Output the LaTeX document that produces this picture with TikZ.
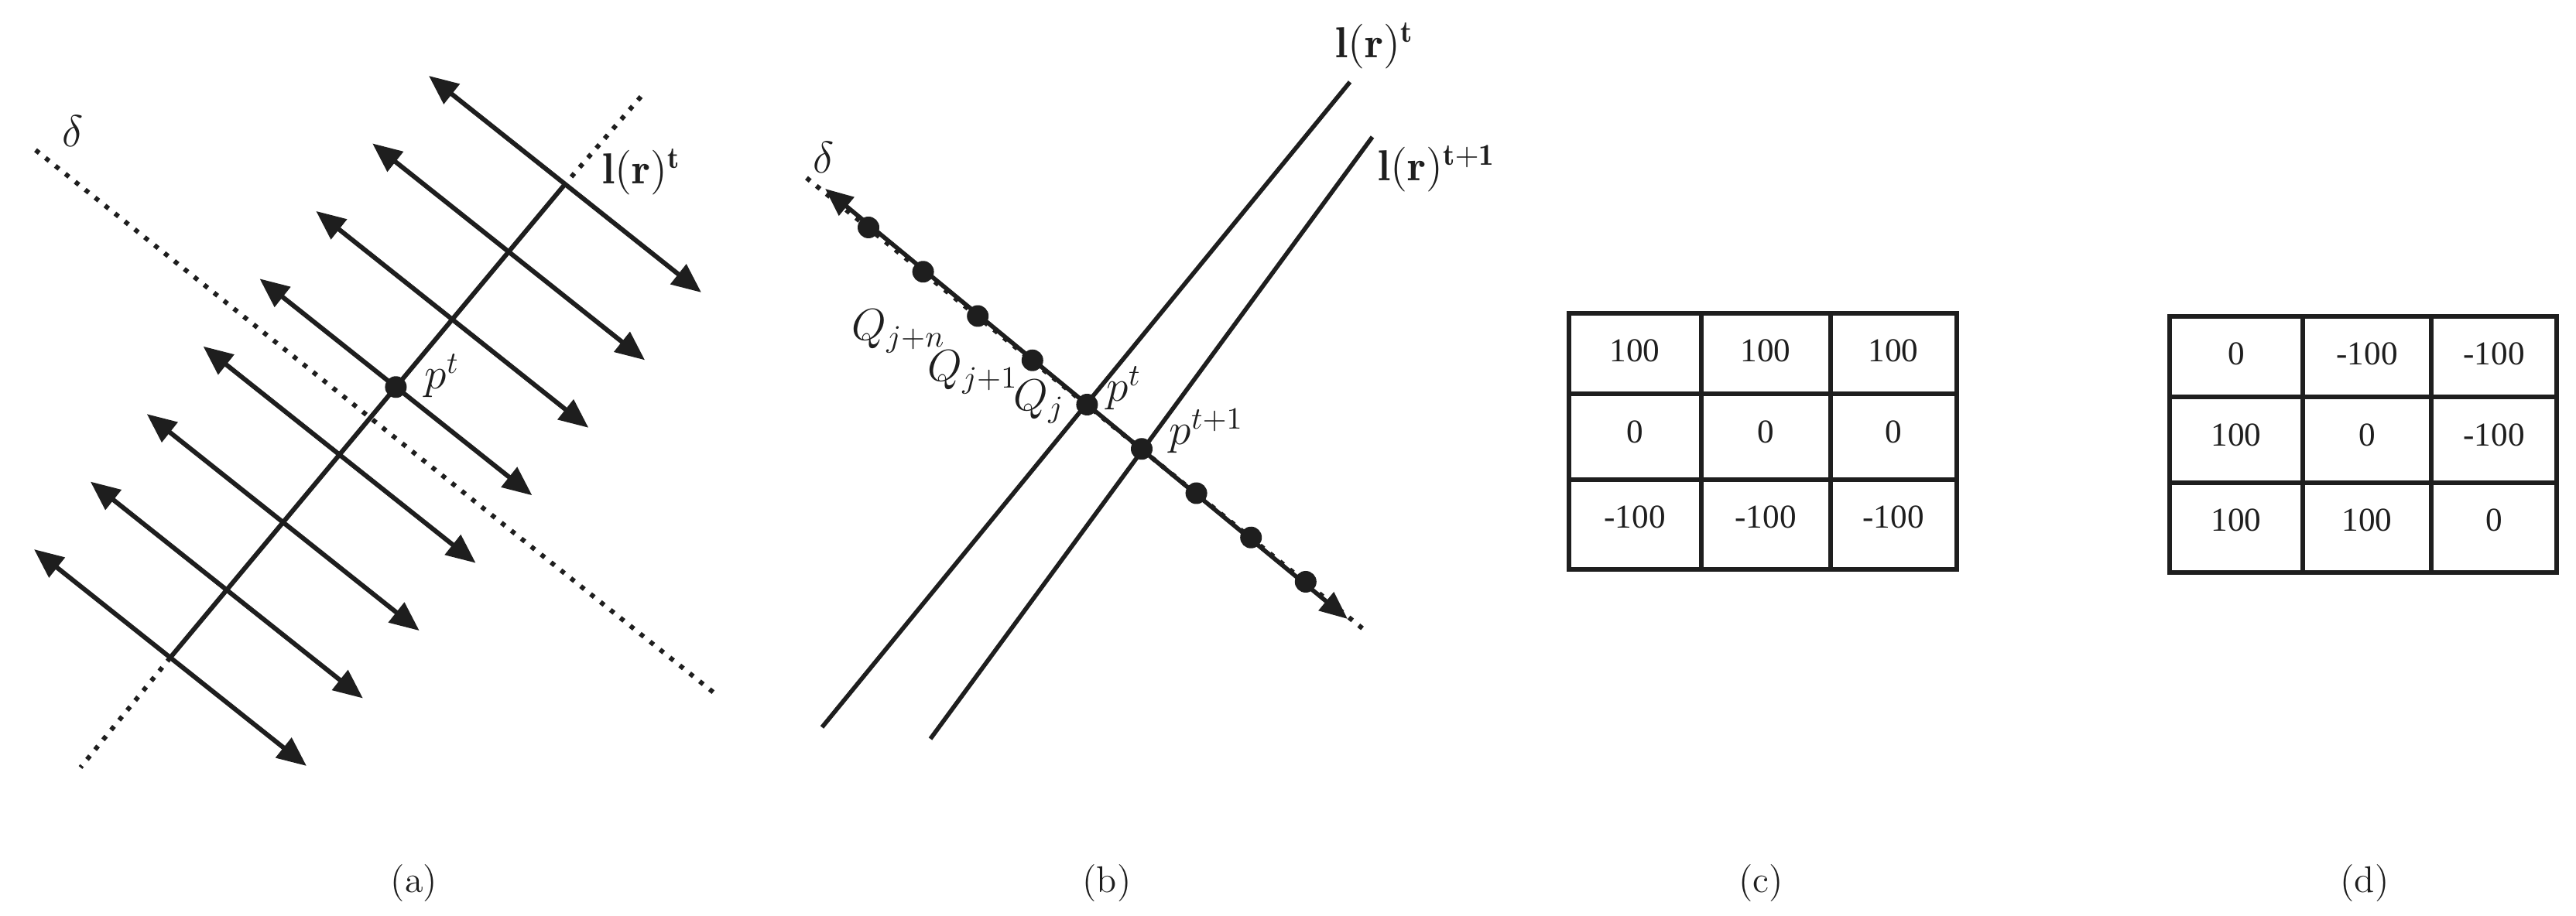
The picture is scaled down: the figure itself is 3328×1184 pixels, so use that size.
\documentclass[tikz,border=0pt]{standalone}
\usepackage{fontspec}
\newfontfamily\tabfont{Liberation Serif}
\usepackage{tikz}
\usetikzlibrary{arrows.meta, calc}
\definecolor{ink}{HTML}{1E1E1E}
\tikzset{
  ln/.style={draw=ink, line width=1.4pt},
  dotln/.style={draw=ink, line width=1.5pt, dash pattern=on 1.5pt off 2.6pt},
  dblarr/.style={ln, line width=1.5pt, {Triangle[length=9.5pt, width=8pt]}-{Triangle[length=9.5pt, width=8pt]}},
  ptarr/.style={ln, {Triangle[length=9pt, width=7.5pt]}-{Triangle[length=9pt, width=7.5pt]}},
  dot/.style={circle, fill=ink, inner sep=0pt, minimum size=7pt},
  lbl/.style={font=\fontsize{14}{17}\selectfont, text=ink, inner sep=0pt, anchor=base west},
  tbl/.style={draw=ink, line width=1.4pt},
  num/.style={font=\tabfont\fontsize{10.8}{13}\selectfont, text=ink, inner sep=0pt},
  captxt/.style={font=\fontsize{12}{14}\selectfont, text=ink, inner sep=0pt},
}

\begin{document}
\begin{tikzpicture}[x=0.25pt, y=-0.25pt]
  \useasboundingbox (0,0) rectangle (3328,1184);

  % (a) level line with its transversal arrows
  \coordinate (da1) at (46,194);
  \coordinate (da2) at (923,896);
  \draw[dotln] (da1) -- (da2);
  \foreach \i in {0,...,7} {
    \coordinate (x\i) at ($(730,238)!\i/7!(220,850)$);
    \coordinate (xs\i) at ($(x\i)+(-176,-140)$);
    \coordinate (xe\i) at ($(x\i)+(176,140)$);
    \draw[dblarr] (xs\i) -- (xe\i);
  }
  \coordinate (la1) at (828,125);
  \coordinate (la2) at (104,992);
  \draw[ln, line width=1.5pt] (x0) -- (x7);
  \draw[dotln] (la1) -- (x0) (x7) -- (la2);
  \node[dot] (pa) at (x3) {};
  \node[lbl] (deltaa) at (80,190) {$\delta$};
  \node[lbl] (lra) at (778,238) {$\mathbf{l}(\mathbf{r})^{\mathbf{t}}$};
  \node[lbl] (pta) at (548,503) {$p^t$};

  % (b) two successive level lines and the search direction
  \coordinate (ua) at (1744,106);
  \coordinate (ub) at (1062,940);
  \coordinate (va) at (1773,177);
  \coordinate (vb) at (1202,955);
  \draw[ln] (ua) -- (ub);
  \draw[ln] (va) -- (vb);
  \coordinate (db1) at (1042,230);
  \coordinate (db2) at (1766,817);
  \coordinate (ds) at (1066,244);
  \coordinate (de) at (1741,800);
  \draw[dotln] (db1) -- (db2);
  \draw[ptarr] (ds) -- (de);
  \foreach \i in {0,...,8}
    \node[dot] (q\i) at ($(1122,294)+\i*(70.6,57.25)$) {};
  \node[lbl] (deltab) at (1050,224) {$\delta$};
  \node[lbl] (qjn) at (1100,440) {$Q_{j+n}$};
  \node[lbl] (qj1) at (1198,493) {$Q_{j+1}$};
  \node[lbl] (qj) at (1309,531) {$Q_j$};
  \node[lbl] (ptb) at (1429,519) {$p^t$};
  \node[lbl] (pt1b) at (1510,575) {$p^{t+1}$};
  \node[lbl] (lrb) at (1725,75) {$\mathbf{l}(\mathbf{r})^{\mathbf{t}}$};
  \node[lbl] (lr1b) at (1780,234) {$\mathbf{l}(\mathbf{r})^{\mathbf{t}+\mathbf{1}}$};

  % (c) mask
  \draw[tbl] (2027,405) rectangle (2528,736);
  \draw[tbl] (2198,405) -- (2198,736) (2365,405) -- (2365,736)
             (2027,509) -- (2528,509) (2027,620) -- (2528,620);
  \node[num] (c11) at (2112,453) {100};
  \node[num] (c12) at (2281,453) {100};
  \node[num] (c13) at (2446,453) {100};
  \node[num] (c21) at (2112,558) {0};
  \node[num] (c22) at (2281,558) {0};
  \node[num] (c23) at (2446,558) {0};
  \node[num] (c31) at (2112,668) {-100};
  \node[num] (c32) at (2281,668) {-100};
  \node[num] (c33) at (2446,668) {-100};

  % (d) mask
  \draw[tbl] (2803,409) rectangle (3303,740);
  \draw[tbl] (2975,409) -- (2975,740) (3141,409) -- (3141,740)
             (2803,513) -- (3303,513) (2803,624) -- (3303,624);
  \node[num] (d11) at (2889,457) {0};
  \node[num] (d12) at (3058,457) {-100};
  \node[num] (d13) at (3222,457) {-100};
  \node[num] (d21) at (2889,562) {100};
  \node[num] (d22) at (3058,562) {0};
  \node[num] (d23) at (3222,562) {-100};
  \node[num] (d31) at (2889,672) {100};
  \node[num] (d32) at (3058,672) {100};
  \node[num] (d33) at (3222,672) {0};

  \node[captxt] (capa) at (535,1142) {(a)};
  \node[captxt] (capb) at (1430,1142) {(b)};
  \node[captxt] (capc) at (2275,1142) {(c)};
  \node[captxt] (capd) at (3055,1142) {(d)};
\end{tikzpicture}
\end{document}
